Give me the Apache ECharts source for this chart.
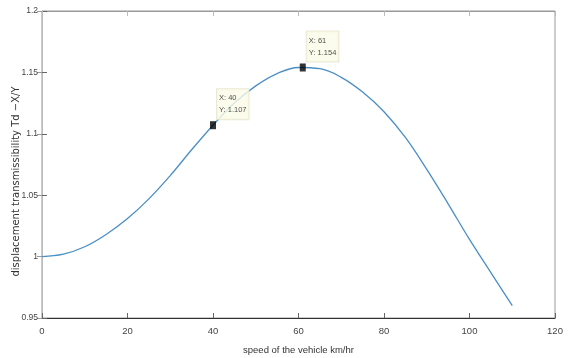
<!DOCTYPE html>
<html>
<head>
<meta charset="utf-8">
<script src="https://cdn.jsdelivr.net/npm/echarts@6/dist/echarts.min.js"></script>
<style>
  html, body { margin: 0; padding: 0; background: #fff; }
  #chart { width: 569px; height: 358px; }
</style>
</head>
<body>
<div id="chart"></div>
<script>
// speed (km/hr) and transmissibility
const speed = [0, 5, 10, 15, 20, 25, 30, 35, 40, 45, 50, 55, 60, 65, 70, 75, 80, 85, 90, 95, 100, 105, 110];
const trans = [1.000, 1.002, 1.008, 1.018, 1.031, 1.047, 1.066, 1.087, 1.107, 1.125, 1.139, 1.149, 1.154, 1.153, 1.146, 1.134, 1.118, 1.097, 1.071, 1.043, 1.014, 0.987, 0.960];

// data tips
const tipX = [40, 61];
const tipY = [1.107, 1.154];

const xTicks = { min: 0, max: 120, interval: 20 };
const yTicks = { min: 0.95, max: 1.2, interval: 0.05 };

const font = 'Liberation Sans Narrow, Liberation Sans, Arial';

const chart = echarts.init(document.getElementById('chart'));

const option = {
  animation: false,
  grid: {
    left: 42, right: 14, top: 11, bottom: 40,
    outerBoundsMode: 'none',
    containLabel: false,
    show: true, borderColor: '#999', borderWidth: 1,
  },
  xAxis: [
    {
      type: 'value',
      ...xTicks,
      name: 'speed of the vehicle km/hr',
      nameLocation: 'middle',
      nameGap: 27,
      nameMoveOverlap: false,
      nameTextStyle: { color: '#333', fontSize: 9.5, fontFamily: font },
      axisLine: { lineStyle: { color: '#333', width: 1.2 } },
      axisTick: { inside: true, length: 5, lineStyle: { color: '#666' } },
      axisLabel: { color: '#444', fontSize: 9.5, fontFamily: font, margin: 8 },
      splitLine: { show: false },
    },
    {
      type: 'value',
      position: 'top',
      ...xTicks,
      axisLine: { lineStyle: { color: '#999' } },
      axisTick: { inside: true, length: 5, lineStyle: { color: '#bbb' } },
      axisLabel: { show: false },
      splitLine: { show: false },
    },
  ],
  yAxis: [
    {
      type: 'value',
      ...yTicks,
      name: 'displacement transmissibility Td \u2212X/Y',
      nameLocation: 'middle',
      nameGap: 21,
      nameMoveOverlap: false,
      nameTextStyle: { color: '#333', fontSize: 10, fontFamily: 'DejaVu Sans', padding: [0, 0, 0, -34] },
      axisLine: { show: true, lineStyle: { color: '#888' } },
      axisTick: { show: true, inside: true, length: 5, lineStyle: { color: '#666' } },
      axisLabel: { color: '#444', fontSize: 8.5, fontFamily: font, margin: 4 },
      splitLine: { show: false },
    },
    {
      type: 'value',
      position: 'right',
      ...yTicks,
      axisLine: { show: true, lineStyle: { color: '#bbb' } },
      axisTick: { show: true, inside: true, length: 5, lineStyle: { color: '#999' } },
      axisLabel: { show: false },
      splitLine: { show: false },
    },
  ],
  series: [
    {
      type: 'line',
      data: speed.map((s, i) => [s, trans[i]]),
      smooth: 0.4,
      showSymbol: false,
      lineStyle: { color: '#4a8fc4', width: 1.3 },
    },
    {
      type: 'scatter',
      data: tipX.map((x, i) => [x, tipY[i]]),
      symbol: 'rect',
      symbolSize: [6, 8],
      itemStyle: { color: '#000' },
      z: 5,
      label: {
        show: true,
        position: [7, -32],
        formatter: p => 'X: ' + p.value[0] + '\nY: ' + p.value[1].toFixed(3),
        backgroundColor: '#fbfbe8',
        borderColor: '#e4e4cc',
        borderWidth: 1,
        padding: [3, 2, 3, 2],
        color: '#222',
        fontSize: 7.5,
        lineHeight: 12,
        fontFamily: font,
      },
    },
  ],
};

chart.setOption(option);
</script>
</body>
</html>
